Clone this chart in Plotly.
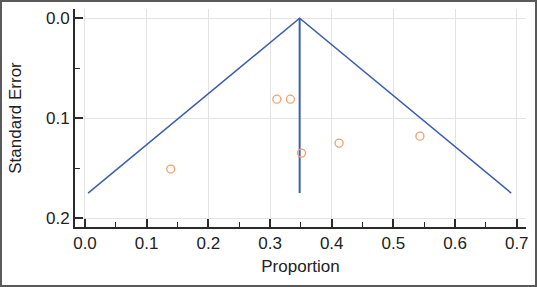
import plotly.graph_objects as go

# Study points (proportion, standard error)
study_prop = [0.139, 0.311, 0.333, 0.412, 0.543, 0.351]
study_se = [0.151, 0.081, 0.081, 0.125, 0.118, 0.135]

# Funnel (pseudo 95% limits) vertices
funnel_x = [0.005, 0.348, 0.691]
funnel_se = [0.175, 0.0, 0.175]

# Pooled estimate line
pooled_x = [0.348, 0.348]
pooled_se = [0.0, 0.175]

x_ticks = [0.0, 0.1, 0.2, 0.3, 0.4, 0.5, 0.6, 0.7]
y_ticks = [0.0, 0.1, 0.2]

W, H = 538, 287
L, R, T, B = 75, 12, 9, 60

fig = go.Figure()
fig.add_trace(go.Scatter(x=funnel_x, y=funnel_se, mode="lines",
                         line=dict(color="#3e5fae", width=1.5), hoverinfo="skip"))
fig.add_trace(go.Scatter(x=pooled_x, y=pooled_se, mode="lines",
                         line=dict(color="#3e5fae", width=2), hoverinfo="skip"))
fig.add_trace(go.Scatter(x=study_prop, y=study_se, mode="markers",
                         marker=dict(symbol="circle-open", size=8, color="#f5a06c",
                                     line=dict(width=1.3, color="#f5a06c"))))

axis_common = dict(
    automargin=False,
    showline=True, linecolor="#2a2a2a", linewidth=2,
    ticks="inside", ticklen=8, tickwidth=1.5, tickcolor="#2a2a2a",
    showgrid=True, gridcolor="#e3e3e3", gridwidth=1,
    zeroline=False,
    tickfont=dict(family="Liberation Sans, Arial", size=17, color="#222"),
    minor=dict(ticks="inside", ticklen=5, tickwidth=1.2, tickcolor="#2a2a2a",
               dtick=0.05, showgrid=False, gridcolor="rgba(0,0,0,0)"),
)

fig.update_layout(
    width=W, height=H, autosize=False,
    margin=dict(l=L, r=R, t=T, b=B, autoexpand=False),
    paper_bgcolor="white", plot_bgcolor="white",
    showlegend=False,
    xaxis=dict(range=[-0.0162, 0.715], tickvals=x_ticks, tickformat=".1f",
               title=dict(text="Proportion", standoff=8,
                          font=dict(family="Liberation Sans, Arial", size=17, color="#222")),
               **axis_common),
    yaxis=dict(range=[0.209, -0.0093], tickvals=y_ticks, tickformat=".1f",
               title=dict(text="Standard Error", standoff=20,
                          font=dict(family="Liberation Sans, Arial", size=17, color="#222")),
               **axis_common),
)

pw, ph = W - L - R, H - T - B
fig.add_shape(type="rect", xref="paper", yref="paper",
              x0=(1 - L) / pw, x1=(536 - L) / pw,
              y0=(H - B - 286) / ph, y1=(H - B - 1) / ph,
              line=dict(color="#5a5a5a", width=2), fillcolor="rgba(0,0,0,0)", layer="above")

fig.write_html("out.html", config={"displayModeBar": False},
               post_script="document.body.style.margin='0';document.body.style.padding='0';")
